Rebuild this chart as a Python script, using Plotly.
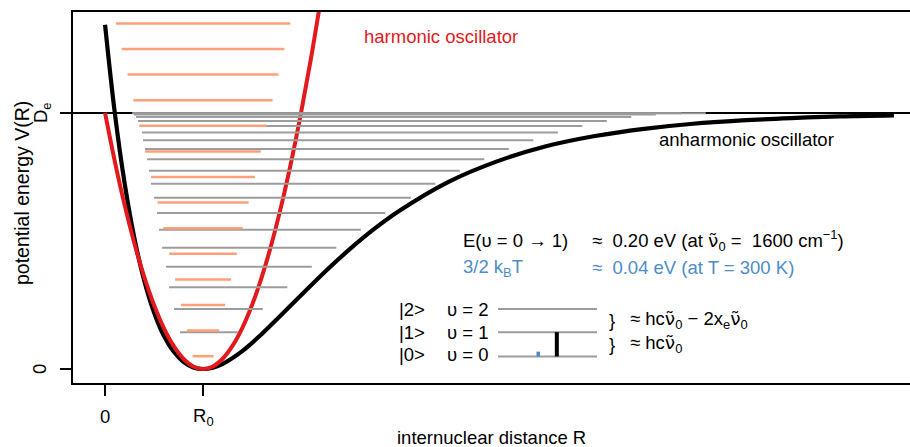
import plotly.graph_objects as go

# ---------------------------------------------------------------
# Potential curves: R in units of R0, V in units of De
# ---------------------------------------------------------------
morse_R = [0.0, 0.1, 0.2, 0.3, 0.4, 0.5, 0.6, 0.7, 0.8, 0.9, 1.0, 1.1, 1.2,
           1.4, 1.6, 1.8, 2.0, 2.25, 2.5, 2.75, 3.0, 3.5, 4.0, 4.5, 5.0,
           5.5, 6.0, 6.5, 7.0, 7.5, 8.05]
morse_V = [1.345, 0.999, 0.725, 0.510, 0.345, 0.221, 0.130, 0.068, 0.028,
           0.006, 0.0, 0.005, 0.020, 0.070, 0.137, 0.212, 0.288, 0.382,
           0.469, 0.548, 0.617, 0.730, 0.811, 0.870, 0.910, 0.938, 0.958,
           0.971, 0.980, 0.987, 0.991]

harm_R = [0.0, 0.1, 0.2, 0.3, 0.4, 0.5, 0.6, 0.7, 0.8, 0.9, 1.0, 1.1, 1.2,
          1.3, 1.4, 1.5, 1.6, 1.7, 1.8, 1.9, 2.0, 2.1, 2.2]
harm_V = [1.00, 0.81, 0.64, 0.49, 0.36, 0.25, 0.16, 0.09, 0.04, 0.01, 0.0,
          0.01, 0.04, 0.09, 0.16, 0.25, 0.36, 0.49, 0.64, 0.81, 1.00, 1.21,
          1.44]

# Anharmonic vibrational levels (v = 1 ... 20): energy, left and right end
anh_E = [0.144, 0.234, 0.319, 0.399, 0.474, 0.544, 0.609, 0.669, 0.724,
         0.774, 0.819, 0.859, 0.894, 0.924, 0.949, 0.969, 0.984, 0.994,
         0.999, 0.999]
anh_left = [0.765, 0.704, 0.653, 0.622, 0.582, 0.551, 0.531, 0.500, 0.469,
            0.449, 0.429, 0.408, 0.388, 0.378, 0.357, 0.337, 0.316, 0.296,
            0.286, 0.276]
anh_right = [1.358, 1.610, 1.860, 2.110, 2.360, 2.610, 2.860, 3.120, 3.370,
             3.620, 3.870, 4.120, 4.370, 4.620, 4.870, 5.120, 5.370, 5.620,
             5.880, 6.130]

# Harmonic levels (v = 0 ... 13): energy and half-length around R0
harm_E = [0.05, 0.15, 0.25, 0.35, 0.45, 0.55, 0.65, 0.75, 0.85, 0.95, 1.05,
          1.15, 1.25, 1.35]
harm_half = [0.107, 0.165, 0.225, 0.285, 0.345, 0.405, 0.465, 0.530, 0.590,
             0.650, 0.710, 0.770, 0.830, 0.890]

R0 = 1.0
De = 1.0

# Lowest three anharmonic levels for the small scheme on the right
scheme_E = [0.049, 0.144, 0.234]
scheme_x = [4.01, 5.02]
E01_eV = 0.20      # E(v=0 -> 1)
kT32_eV = 0.04     # 3/2 kB T at 300 K

RED = "#E3191C"
SALMON = "#FFA07A"
GREY = "#9C9C9C"
BLUE = "#4C8DC8"
FONT = "Liberation Sans, Arial, Helvetica, sans-serif"
FS = 18.5


def segments(x0s, x1s, ys):
    xs, yy = [], []
    for a, b, y in zip(x0s, x1s, ys):
        xs += [a, b, None]
        yy += [y, y, None]
    return xs, yy


fig = go.Figure()

# Morse potential
fig.add_trace(go.Scatter(x=morse_R, y=morse_V, mode="lines",
                         line=dict(color="black", width=4.2, shape="spline"),
                         hoverinfo="skip"))
# harmonic potential
fig.add_trace(go.Scatter(x=harm_R, y=harm_V, mode="lines",
                         line=dict(color=RED, width=4, shape="spline"),
                         hoverinfo="skip"))

# anharmonic levels
gx, gy = segments(anh_left, anh_right, anh_E)
fig.add_trace(go.Scatter(x=gx, y=gy, mode="lines",
                         line=dict(color=GREY, width=2), hoverinfo="skip"))

# harmonic levels
hx, hy = segments([R0 - h for h in harm_half], [R0 + h for h in harm_half],
                  harm_E)
fig.add_trace(go.Scatter(x=hx, y=hy, mode="lines",
                         line=dict(color=SALMON, width=2.5), hoverinfo="skip"))

# level scheme |0>, |1>, |2>
sx, sy = segments([scheme_x[0]] * 3, [scheme_x[1]] * 3, scheme_E)
fig.add_trace(go.Scatter(x=sx, y=sy, mode="lines",
                         line=dict(color=GREY, width=2), hoverinfo="skip"))

# thermal energy vs. first excitation
gap01 = scheme_E[1] - scheme_E[0]
fig.add_trace(go.Scatter(x=[4.42, 4.42],
                         y=[scheme_E[0], scheme_E[0] + gap01 * kT32_eV / E01_eV],
                         mode="lines", line=dict(color=BLUE, width=3.5),
                         hoverinfo="skip"))
fig.add_trace(go.Scatter(x=[4.61, 4.61], y=[scheme_E[0], scheme_E[1]],
                         mode="lines", line=dict(color="black", width=4),
                         hoverinfo="skip"))

# dissociation limit
fig.add_shape(type="line", xref="paper", x0=0, x1=1, yref="y", y0=De, y1=De,
              line=dict(color="black", width=2), layer="below")


def note(x, y, text, color="black", size=FS, xanchor="left", xref="x",
         yref="y", angle=0):
    fig.add_annotation(x=x, y=y, xref=xref, yref=yref, text=text,
                       showarrow=False, xanchor=xanchor, yanchor="middle",
                       textangle=angle, font=dict(family=FONT, size=size,
                                                  color=color))


# wavenumber symbol: nu with a tilde on top
nu0 = ("<span style=\"font-family:'DejaVu Sans'\">\u03bd\u0303</span>"
       "<sub>0</sub>")

note(2.62, 1.297, "harmonic oscillator", color=RED)
note(5.63, 0.898, "anharmonic oscillator")

note(3.63, 0.500, "E(\u03c5 = 0 \u2192 1)")
note(4.95, 0.500, "\u2248  %.2f eV (at %s =  1600 cm<sup>\u22121</sup>)"
     % (E01_eV, nu0))
note(3.63, 0.395, "3/2 k<sub>B</sub>T", color=BLUE)
note(4.95, 0.395, "\u2248  %.2f eV (at T = 300 K)" % kT32_eV, color=BLUE)

for lab, v, y in zip(["|0>", "|1>", "|2>"], ["0", "1", "2"],
                     [0.055, 0.142, 0.234]):
    note(2.98, y, lab)
    note(3.47, y, "\u03c5 = " + v)

note(5.12, (scheme_E[1] + scheme_E[2]) / 2, "}")
note(5.12, (scheme_E[0] + scheme_E[1]) / 2, "}")
note(5.34, (scheme_E[1] + scheme_E[2]) / 2 + 0.004,
     "\u2248 hc%s \u2212 2x<sub>e</sub>%s" % (nu0, nu0))
note(5.34, (scheme_E[0] + scheme_E[1]) / 2, "\u2248 hc%s" % nu0)

# tick labels and axis titles
note(0, -0.0916, "0", xanchor="center", yref="paper")
note(R0, -0.0916, "R<sub>0</sub>", xanchor="center", yref="paper")
note(-0.0406, 0, "0", xanchor="center", xref="paper", angle=-90)
note(-0.037, De, "D<sub>e</sub>", xanchor="center", xref="paper", angle=-90)
note(0.5, -0.1480, "internuclear distance R", xanchor="center",
     xref="paper", yref="paper")
note(-0.061, 0.512, "potential energy V(R)", xanchor="center",
     xref="paper", yref="paper", angle=-90, size=19.5)

fig.update_layout(
    width=910, height=447,
    margin=dict(l=73, r=0, t=12, b=64),
    paper_bgcolor="white", plot_bgcolor="white",
    showlegend=False,
    font=dict(family=FONT, size=FS, color="black"),
    xaxis=dict(range=[-0.327, 8.214], showgrid=False, zeroline=False,
               showline=True, linecolor="black", linewidth=2, mirror=True,
               ticks="outside", ticklen=11, tickwidth=2, tickcolor="black",
               tickvals=[0, R0], showticklabels=False),
    yaxis=dict(range=[-0.0547, 1.3945], showgrid=False, zeroline=False,
               showline=True, linecolor="black", linewidth=2, mirror=False,
               ticks="outside", ticklen=11, tickwidth=2, tickcolor="black",
               tickvals=[0, De], showticklabels=False),
)

fig.write_html("out.html")
